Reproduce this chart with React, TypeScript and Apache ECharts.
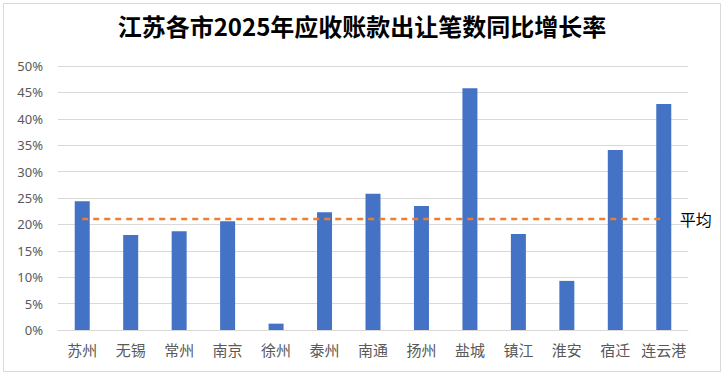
import React, { useEffect, useRef } from "react";
import * as echarts from "echarts";

const titleText = "江苏各市2025年应收账款出让笔数同比增长率";
const categories = ["苏州", "无锡", "常州", "南京", "徐州", "泰州", "南通", "扬州", "盐城", "镇江", "淮安", "宿迁", "连云港"];
const growthValues = [24.4, 18.0, 18.7, 20.6, 1.2, 22.3, 25.8, 23.5, 45.8, 18.2, 9.3, 34.1, 42.8];
const averageValue = 21.0;
const averageLabel = "平均";

export default function App() {
  const ref = useRef<HTMLDivElement>(null);
  useEffect(() => {
    if (!ref.current) return;
    const chart = echarts.init(ref.current, null, { renderer: "svg" });
    chart.setOption({
      animation: false,
      backgroundColor: "#ffffff",
      title: {
        text: titleText,
        left: "center",
        top: 8,
        textStyle: {
          fontFamily: "'Noto Sans CJK SC', sans-serif",
          fontWeight: "bold",
          fontSize: 24,
          color: "#000000",
        },
      },
      graphic: [
        {
          type: "rect",
          shape: { x: 3.5, y: 3.5, width: 717, height: 368 },
          style: { fill: "none", stroke: "#D9D9D9", lineWidth: 1 },
          silent: true,
        },
      ],
      grid: { left: 58, right: 36, top: 66, bottom: 45 },
      xAxis: {
        type: "category",
        data: categories,
        axisLine: { lineStyle: { color: "#D9D9D9" } },
        axisTick: { show: false },
        axisLabel: {
          color: "#595959",
          fontSize: 15,
          fontFamily: "'Noto Sans CJK SC', sans-serif",
          margin: 12,
          interval: 0,
        },
      },
      yAxis: {
        type: "value",
        min: 0,
        max: 50,
        interval: 5,
        axisLine: { show: false },
        axisTick: { show: false },
        splitLine: { lineStyle: { color: "#D9D9D9" } },
        axisLabel: {
          formatter: "{value}%",
          color: "#595959",
          fontSize: 13,
          fontFamily: "'Noto Sans', sans-serif",
          margin: 15,
        },
      },
      series: [
        {
          type: "bar",
          data: growthValues,
          barWidth: 15,
          itemStyle: { color: "#4472C4" },
        },
        {
          type: "line",
          data: categories.map(() => averageValue),
          symbol: "none",
          lineStyle: { color: "#ED7D31", width: 2.5, type: [6, 5] },
          endLabel: {
            show: true,
            formatter: averageLabel,
            color: "#000000",
            fontSize: 16,
            fontFamily: "'Noto Sans CJK SC', sans-serif",
            distance: 16,
          },
        },
      ],
    });
    return () => chart.dispose();
  }, []);
  return <div ref={ref} style={{ position: "absolute", left: 0, top: 0, width: 724, height: 375 }} />;
}
